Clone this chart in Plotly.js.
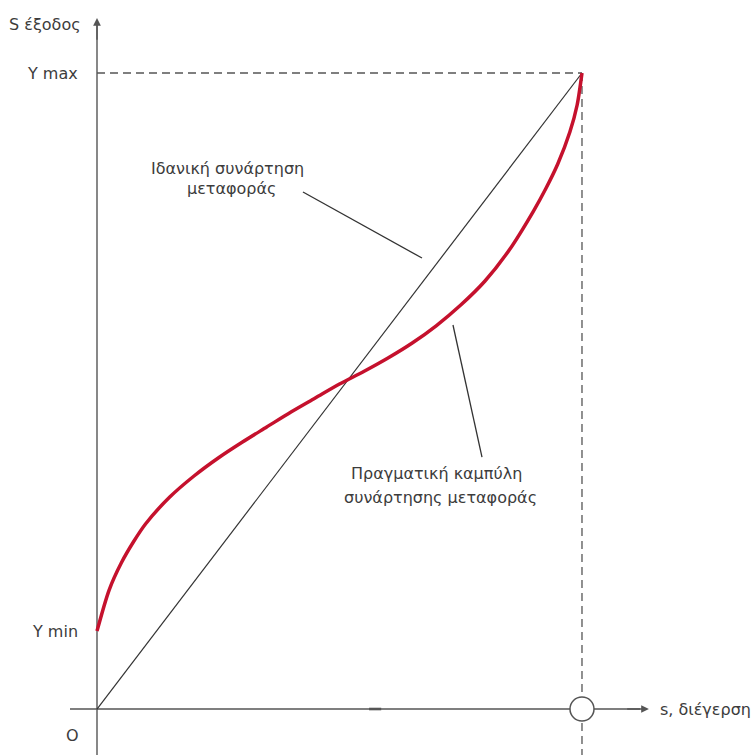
<!DOCTYPE html>
<html>
<head>
<meta charset="utf-8">
<script src="https://cdn.plot.ly/plotly-3.0.1.min.js"></script>
<style>html,body{margin:0;padding:0;background:#fff;}#chart{width:756px;height:755px;}</style>
</head>
<body>
<div id="chart"></div>
<script>
// Ideal transfer function (normalised: s from 0 to 1, output from 0 to Y max = 1)
const idealX = [0, 1];
const idealY = [0, 1];

const realX = [0, 0.025, 0.05, 0.075, 0.1, 0.15, 0.2, 0.25, 0.3, 0.35, 0.4, 0.45, 0.5, 0.55, 0.6, 0.65, 0.7, 0.75, 0.8, 0.85, 0.9, 0.925, 0.95, 0.975, 0.99, 1.0];
const realY = [0.1226, 0.1871, 0.2296, 0.2626, 0.2909, 0.3333, 0.3664, 0.3947, 0.4198, 0.4434, 0.4670, 0.4890, 0.5110, 0.5307, 0.5519, 0.5755, 0.6030, 0.6352, 0.6730, 0.7217, 0.7830, 0.8176, 0.8569, 0.9072, 0.9497, 1.0];

// Labels
const yMaxLabel = 'Y max';
const yMinLabel = 'Y min';
const yMinValue = realY[0];
const yMaxValue = 1;
const xMaxValue = 1;
const yAxisTitle = 'S έξοδος';
const xAxisTitle = 's, διέγερση';
const originLabel = 'O';
const idealLines = ['Ιδανική συνάρτηση', 'μεταφοράς'];
const realLines = ['Πραγματική καμπύλη', 'συνάρτησης μεταφοράς'];

const axisColor = '#555555';
const textColor = '#3c3c3c';
const font = {family: 'DejaVu Sans, Liberation Sans, sans-serif', size: 16, color: textColor};

const xr = [-0.2, 1.3588];
const yr = [-0.0723, 1.1148];

const traces = [
  {x: idealX, y: idealY, mode: 'lines', line: {color: '#333333', width: 1.2}, hoverinfo: 'skip'},
  {x: realX, y: realY, mode: 'lines', line: {color: '#c5112d', width: 3.5, shape: 'spline', smoothing: 0.8}, hoverinfo: 'skip'}
];

const shapes = [
  // axes lines
  {type: 'line', x0: 0, x1: 0, y0: yr[0], y1: 1.08, line: {color: axisColor, width: 1.4}, layer: 'below'},
  {type: 'line', x0: -0.0557, x1: 1.12, y0: 0, y1: 0, line: {color: axisColor, width: 1.4}, layer: 'below'},
  // dashed guides
  {type: 'line', x0: 0, x1: xMaxValue, y0: yMaxValue, y1: yMaxValue, line: {color: axisColor, width: 1.3, dash: '8px,5px'}, layer: 'below'},
  {type: 'line', x0: xMaxValue, x1: xMaxValue, y0: yMaxValue, y1: yr[0], line: {color: axisColor, width: 1.3, dash: '8px,5px'}, layer: 'below'},
  // small mark on x axis
  {type: 'line', x0: 0.561, x1: 0.586, y0: 0, y1: 0, line: {color: axisColor, width: 2.6}, layer: 'below'},
  // leader lines
  {type: 'line', x0: 0.4247, y0: 0.8129, x1: 0.6701, y1: 0.7091, line: {color: '#333333', width: 1.3}},
  {type: 'line', x0: 0.734, y0: 0.6038, x1: 0.7938, y1: 0.3962, line: {color: '#333333', width: 1.3}},
  // open circle at s max
  {type: 'circle', xsizemode: 'pixel', ysizemode: 'pixel', xanchor: xMaxValue, yanchor: 0,
   x0: -12, x1: 12, y0: -12, y1: 12, fillcolor: '#ffffff', line: {color: axisColor, width: 1.5}, layer: 'above'}
];

const annotations = [
  // arrowheads
  {x: 0, y: 1.0865, ax: 0, ay: 1.05, xref: 'x', yref: 'y', axref: 'x', ayref: 'y', showarrow: true,
   arrowhead: 2, arrowsize: 1.1, arrowwidth: 1.4, arrowcolor: axisColor, text: '', standoff: 0},
  {x: 1.138, y: 0, ax: 1.09, ay: 0, xref: 'x', yref: 'y', axref: 'x', ayref: 'y', showarrow: true,
   arrowhead: 2, arrowsize: 1.1, arrowwidth: 1.4, arrowcolor: axisColor, text: '', standoff: 0},
  // axis labels
  {x: -0.029, y: 1.0755, xref: 'x', yref: 'y', text: yAxisTitle, showarrow: false, xanchor: 'right', yanchor: 'middle', font: font},
  {x: -0.035, y: yMaxValue, xref: 'x', yref: 'y', text: yMaxLabel, showarrow: false, xanchor: 'right', yanchor: 'middle', font: font},
  {x: -0.035, y: yMinValue, xref: 'x', yref: 'y', text: yMinLabel, showarrow: false, xanchor: 'right', yanchor: 'middle', font: font},
  {x: -0.0495, y: -0.042, xref: 'x', yref: 'y', text: originLabel, showarrow: false, xanchor: 'center', yanchor: 'middle', font: font},
  {x: 1.157, y: 0, xref: 'x', yref: 'y', text: xAxisTitle, showarrow: false, xanchor: 'left', yanchor: 'middle', font: font},
  // curve labels
  {x: 0.270, y: 0.8506, xref: 'x', yref: 'y', text: idealLines[0], showarrow: false, xanchor: 'center', yanchor: 'middle', font: font},
  {x: 0.2763, y: 0.8192, xref: 'x', yref: 'y', text: idealLines[1], showarrow: false, xanchor: 'center', yanchor: 'middle', font: font},
  {x: 0.701, y: 0.371, xref: 'x', yref: 'y', text: realLines[0], showarrow: false, xanchor: 'center', yanchor: 'middle', font: font},
  {x: 0.709, y: 0.3333, xref: 'x', yref: 'y', text: realLines[1], showarrow: false, xanchor: 'center', yanchor: 'middle', font: font}
];

const layout = {
  width: 756, height: 755,
  margin: {l: 0, r: 0, t: 0, b: 0, pad: 0},
  paper_bgcolor: '#ffffff', plot_bgcolor: '#ffffff',
  showlegend: false,
  xaxis: {range: xr, visible: false, fixedrange: true},
  yaxis: {range: yr, visible: false, fixedrange: true},
  shapes: shapes,
  annotations: annotations
};

Plotly.newPlot('chart', traces, layout, {displayModeBar: false, staticPlot: true});
</script>
</body>
</html>
